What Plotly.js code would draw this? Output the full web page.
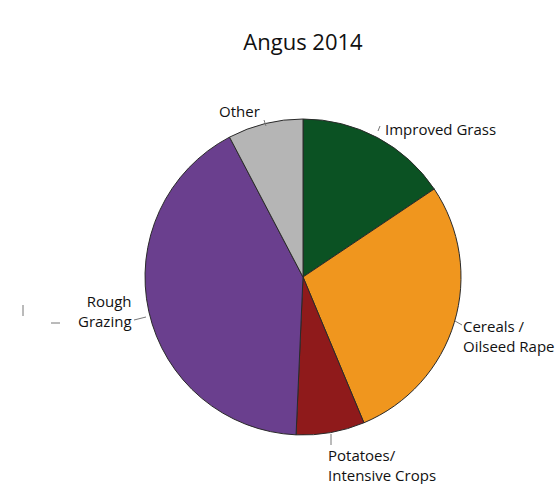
<!DOCTYPE html>
<html>
<head>
<meta charset="utf-8">
<script src="https://cdn.plot.ly/plotly-3.0.1.min.js"></script>
<style>html,body{margin:0;padding:0;background:#fff;}#chart{width:560px;height:484px;}</style>
</head>
<body>
<div id="chart"></div>
<script>
const categories = ["Improved Grass", "Cereals / Oilseed Rape", "Potatoes/ Intensive Crops", "Rough Grazing", "Other"];
const displayLabels = ["Improved Grass", "Cereals /<br>Oilseed Rape", "Potatoes/<br>Intensive Crops", "Rough<br>Grazing", "Other"];
const shares = [15.6, 28.1, 7.0, 41.6, 7.7];
const colours = ["#0b5223", "#f0961e", "#8f1a1b", "#6a3f8e", "#b5b5b5"];

const W = 560, H = 484;
const px = x => x / W;
const py = y => 1 - y / H;

// label placements (pixel positions converted to paper)
const labelPos = [
  {x: 383, y: 129, xa: "left", align: "left"},
  {x: 461, y: 336, xa: "left", align: "left"},
  {x: 326, y: 465, xa: "left", align: "left"},
  {x: 134, y: 311, xa: "right", align: "right"},
  {x: 262, y: 111, xa: "right", align: "right"}
];
const tickLines = [
  [378, 131, 380, 126],
  [455, 321, 462, 325],
  [331, 434, 331, 445],
  [134, 320, 146, 317],
  [264, 120, 266, 126],
  [23, 305, 23, 316],
  [51, 323, 60, 323]
];

const annotations = categories.map((c, i) => ({
  text: displayLabels[i],
  x: px(labelPos[i].x), y: py(labelPos[i].y),
  xref: "paper", yref: "paper",
  xanchor: labelPos[i].xa, yanchor: "middle",
  align: labelPos[i].align,
  showarrow: false,
  font: {family: "Open Sans, sans-serif", size: 15, color: "#111"}
}));

const shapes = tickLines.map(l => ({
  type: "line", xref: "paper", yref: "paper",
  x0: px(l[0]), y0: py(l[1]), x1: px(l[2]), y1: py(l[3]),
  line: {color: "#777", width: 1}
}));

const trace = {
  type: "pie",
  labels: categories,
  values: shares,
  sort: false,
  direction: "clockwise",
  rotation: 0,
  marker: {colors: colours, line: {color: "#2a2a2a", width: 1}},
  textinfo: "none",
  hoverinfo: "label+percent",
  domain: {x: [px(145), px(461)], y: [py(435), py(119)]},
  showlegend: false
};

const layout = {
  width: W, height: H,
  margin: {l: 0, r: 0, t: 0, b: 0},
  paper_bgcolor: "#ffffff",
  title: {
    text: "Angus 2014",
    x: px(303), xanchor: "center",
    y: py(42), yanchor: "middle",
    font: {family: "Open Sans, sans-serif", size: 22, color: "#111"}
  },
  annotations: annotations,
  shapes: shapes,
  showlegend: false
};

Plotly.newPlot("chart", [trace], layout, {displayModeBar: false, staticPlot: true});
</script>
</body>
</html>
